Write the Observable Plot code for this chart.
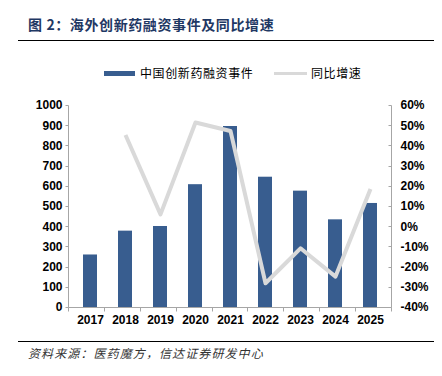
<!DOCTYPE html>
<html>
<head>
<meta charset="utf-8">
<script src="https://cdn.jsdelivr.net/npm/d3@7"></script>
<script src="https://cdn.jsdelivr.net/npm/@observablehq/plot@0.6"></script>
<style>
  html, body { margin: 0; padding: 0; background: #fff; }
  #wrap { position: relative; width: 442px; height: 376px; overflow: hidden; font-family: "Noto Sans CJK SC", "Liberation Sans", sans-serif; }
  .abs { position: absolute; white-space: nowrap; }
  #title { left: 28px; top: 16px; font-size: 14px; line-height: 16px; font-weight: bold; color: #1f3864; letter-spacing: 0.6px; }
  .rule { left: 18px; width: 416px; height: 1.5px; background: #000; }
  .legtext { font-size: 12px; line-height: 12px; color: #000; letter-spacing: 0.6px; }
  #caption { left: 28px; top: 346px; font-size: 12px; line-height: 14px; font-style: italic; color: #333; letter-spacing: 1.1px; }
  #chart { position: absolute; left: 0; top: 90px; }
</style>
</head>
<body>
<div id="wrap">
  <div id="title" class="abs">图 2：海外创新药融资事件及同比增速</div>
  <div class="abs rule" style="top:39.5px"></div>
  <div class="abs" style="left:104px; top:70.5px; width:31px; height:5.5px; background:#385d8f"></div>
  <div class="abs legtext" style="left:140px; top:67px">中国创新药融资事件</div>
  <div class="abs" style="left:274px; top:71.5px; width:33px; height:3.5px; background:#d9d9d9"></div>
  <div class="abs legtext" style="left:311px; top:67px">同比增速</div>
  <div id="chart"></div>
  <div class="abs rule" style="top:340.5px"></div>
  <div id="caption" class="abs">资料来源：医药魔方，信达证券研发中心</div>
</div>
<script>
const years = ["2017","2018","2019","2020","2021","2022","2023","2024","2025"];
const events = [260, 378, 401, 608, 896, 645, 576, 434, 515];
const yoy = [null, 45.4, 6.1, 51.6, 47.4, -28.0, -10.7, -24.7, 18.7];
const leftTicks = [0,100,200,300,400,500,600,700,800,900,1000];
const rightTicks = [-40,-30,-20,-10,0,10,20,30,40,50,60];

// map the secondary (percent) axis onto the primary domain [0, 1000]
const pctToY = p => (p + 40) * 10;

const data = years.map((y, i) => ({year: y, events: events[i], yoy: yoy[i]}));

function frameMark(index, scales, values, dims) {
  const g = d3.create("svg:g").attr("stroke", "#a6a6a6").attr("fill", "none").attr("stroke-width", 1);
  const x0 = dims.marginLeft + 0.5, x1 = dims.width - dims.marginRight + 0.5;
  const y = scales.y;
  const yb = Math.round(y(0)) + 0.5, yt = Math.round(y(1000)) + 0.5;
  g.append("line").attr("x1", x0).attr("x2", x1).attr("y1", yb).attr("y2", yb);
  g.append("line").attr("x1", x0).attr("x2", x0).attr("y1", yt).attr("y2", yb);
  g.append("line").attr("x1", x1).attr("x2", x1).attr("y1", yt).attr("y2", yb);
  const n = years.length;
  for (let k = 0; k <= n; k++) {
    const xk = Math.round(dims.marginLeft + k * (dims.width - dims.marginLeft - dims.marginRight) / n) + 0.5;
    g.append("line").attr("x1", xk).attr("x2", xk).attr("y1", yb).attr("y2", yb + 4);
  }
  for (const t of leftTicks) {
    const yy = Math.round(y(t)) + 0.5;
    g.append("line").attr("x1", x0 - 3).attr("x2", x0).attr("y1", yy).attr("y2", yy);
  }
  for (const t of rightTicks) {
    const yy = Math.round(y(pctToY(t))) + 0.5;
    g.append("line").attr("x1", x1 - 3).attr("x2", x1).attr("y1", yy).attr("y2", yy);
  }
  return g.node();
}

const chart = Plot.plot({
  width: 442,
  height: 245,
  marginTop: 15,
  marginBottom: 28,
  marginLeft: 68,
  marginRight: 51,
  style: {fontFamily: "'Liberation Sans', Arial, sans-serif", fontSize: "12px", fontWeight: "bold", color: "#000", background: "transparent"},
  x: {type: "band", domain: years, paddingInner: 0.6, paddingOuter: 0.3, label: null},
  y: {domain: [0, 1000], label: null},
  marks: [
    Plot.barY(data, {x: "year", y: "events", fill: "#385d8f"}),
    Plot.lineY(data, {x: "year", y: d => d.yoy == null ? NaN : pctToY(d.yoy), stroke: "#d9d9d9", strokeWidth: 4, strokeLinejoin: "round", strokeLinecap: "butt"}),
    frameMark,
    Plot.axisY({anchor: "left", ticks: leftTicks, tickFormat: d => String(d), tickSize: 0, tickPadding: 6, label: null}),
    Plot.axisY({anchor: "right", ticks: rightTicks.map(pctToY), tickFormat: d => `${Math.round(d / 10 - 40)}%`, tickSize: 0, tickPadding: 9, label: null}),
    Plot.axisX({tickSize: 0, tickPadding: 8, label: null})
  ]
});
document.getElementById("chart").appendChild(chart);
</script>
</body>
</html>
